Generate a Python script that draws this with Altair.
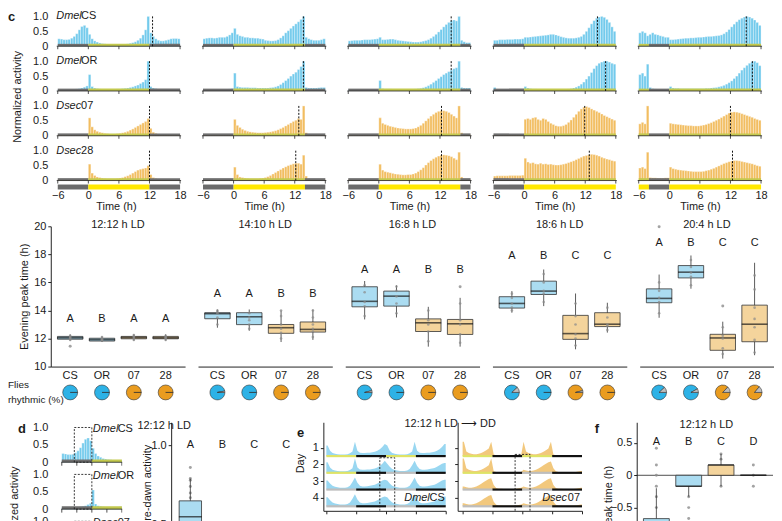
import math
import altair as alt
import pandas as pd

FONT = "Liberation Sans"
TXT = "#1a1a1a"

LD = ["12:12 h LD", "14:10 h LD", "16:8 h LD", "18:6 h LD", "20:4 h LD"]
STRAINS = ["CS", "OR", "07", "28"]
GENUS = ["Dmel", "Dmel", "Dsec", "Dsec"]

BAR_BLUE = "#72caec"
BAR_ORANGE = "#f2bd60"
BOX_BLUE = "#abdcf1"
BOX_ORANGE = "#f4d49c"
PIE_BLUE = "#2db2e6"
PIE_ORANGE = "#ea9c1f"
PIE_GRAY = "#bdbdbd"
PH_COL = {"D": "#6e6e6e", "L": "#c3c94e"}
LB_COL = {"D": "#6b6b6b", "L": "#ffe800"}

# 30-min bins from -6 h to 18 h (bin starts)
BIN_START = [-6 + 0.5 * i for i in range(48)]

# ---- normalized activity profiles, [LD condition][strain] ----
HIST = [
    [  # 12:12
        [0.25,0.24,0.22,0.22,0.23,0.27,0.33,0.42,0.55,0.66,0.70,0.62,
         0.40,0.25,0.18,0.14,0.11,0.09,0.08,0.07,0.06,0.06,0.06,0.06,
         0.06,0.07,0.07,0.08,0.10,0.12,0.15,0.20,0.27,0.38,0.55,1.00,
         0.45,0.33,0.25,0.20,0.18,0.18,0.20,0.22,0.25,0.26,0.26,0.25],
        [0.05,0.05,0.05,0.05,0.05,0.05,0.06,0.07,0.08,0.10,0.13,0.17,
         0.55,0.15,0.10,0.08,0.07,0.06,0.06,0.06,0.06,0.06,0.06,0.07,
         0.07,0.08,0.09,0.10,0.12,0.14,0.17,0.20,0.25,0.30,0.38,1.00,
         0.15,0.10,0.08,0.06,0.05,0.05,0.05,0.05,0.05,0.05,0.05,0.05],
        [0.03,0.03,0.03,0.03,0.03,0.03,0.03,0.03,0.03,0.04,0.04,0.05,
         0.60,0.30,0.20,0.15,0.12,0.10,0.08,0.07,0.06,0.06,0.06,0.07,
         0.08,0.10,0.12,0.15,0.19,0.23,0.28,0.33,0.38,0.43,0.48,0.58,
         0.25,0.12,0.08,0.06,0.05,0.04,0.04,0.04,0.03,0.03,0.03,0.03],
        [0.03,0.03,0.03,0.03,0.03,0.03,0.03,0.03,0.04,0.04,0.04,0.05,
         0.55,0.25,0.17,0.12,0.10,0.08,0.07,0.06,0.06,0.06,0.06,0.07,
         0.08,0.10,0.13,0.16,0.20,0.25,0.30,0.35,0.38,0.40,0.42,0.50,
         0.20,0.10,0.07,0.05,0.04,0.04,0.03,0.03,0.03,0.03,0.03,0.03],
    ],
    [  # 14:10
        [0.25,0.27,0.28,0.28,0.27,0.28,0.30,0.30,0.30,0.33,0.38,0.45,
         0.60,0.40,0.35,0.33,0.30,0.30,0.28,0.28,0.27,0.27,0.25,0.24,
         0.20,0.19,0.18,0.18,0.19,0.22,0.28,0.35,0.45,0.52,0.60,0.68,
         0.75,0.82,0.90,1.00,0.30,0.25,0.22,0.20,0.20,0.20,0.22,0.25],
        [0.05,0.05,0.05,0.05,0.05,0.05,0.05,0.05,0.06,0.06,0.07,0.08,
         0.60,0.15,0.13,0.12,0.12,0.12,0.11,0.11,0.11,0.10,0.10,0.10,
         0.10,0.10,0.11,0.12,0.14,0.17,0.22,0.28,0.35,0.42,0.50,0.57,
         0.63,0.72,0.82,1.00,0.12,0.10,0.10,0.10,0.10,0.11,0.12,0.12],
        [0.03,0.03,0.03,0.03,0.03,0.03,0.03,0.03,0.03,0.03,0.03,0.04,
         0.55,0.35,0.28,0.22,0.18,0.15,0.13,0.12,0.11,0.10,0.10,0.10,
         0.11,0.12,0.13,0.15,0.17,0.20,0.24,0.28,0.33,0.38,0.43,0.48,
         0.52,0.58,0.55,1.00,0.10,0.05,0.04,0.03,0.03,0.03,0.03,0.03],
        [0.03,0.03,0.03,0.03,0.03,0.03,0.03,0.03,0.03,0.04,0.04,0.04,
         0.45,0.20,0.12,0.10,0.08,0.07,0.06,0.06,0.06,0.06,0.07,0.08,
         0.10,0.13,0.17,0.22,0.27,0.32,0.37,0.42,0.46,0.50,0.53,0.56,
         0.58,0.58,0.55,0.85,0.15,0.06,0.04,0.04,0.03,0.03,0.03,0.03],
    ],
    [  # 16:8
        [0.18,0.19,0.20,0.20,0.20,0.21,0.22,0.22,0.22,0.23,0.24,0.25,
         0.30,0.22,0.22,0.23,0.24,0.24,0.22,0.20,0.19,0.18,0.17,0.16,
         0.15,0.14,0.14,0.14,0.15,0.17,0.19,0.22,0.27,0.33,0.40,0.48,
         0.56,0.65,0.73,0.80,0.85,0.88,0.85,1.00,0.20,0.15,0.12,0.12],
        [0.05,0.05,0.05,0.05,0.05,0.05,0.05,0.05,0.05,0.05,0.06,0.06,
         0.35,0.08,0.07,0.07,0.07,0.06,0.06,0.06,0.06,0.06,0.06,0.06,
         0.06,0.06,0.07,0.08,0.09,0.11,0.14,0.18,0.23,0.29,0.35,0.42,
         0.48,0.55,0.60,0.65,0.70,0.75,0.78,1.00,0.12,0.10,0.10,0.10],
        [0.03,0.03,0.03,0.03,0.03,0.03,0.03,0.03,0.03,0.03,0.03,0.03,
         0.60,0.42,0.38,0.35,0.32,0.30,0.28,0.26,0.25,0.24,0.23,0.23,
         0.23,0.24,0.26,0.30,0.35,0.42,0.50,0.58,0.66,0.72,0.78,0.82,
         0.84,0.84,0.82,0.78,0.72,0.66,0.60,1.00,0.10,0.05,0.04,0.04],
        [0.04,0.04,0.04,0.04,0.04,0.04,0.04,0.04,0.04,0.04,0.04,0.04,
         0.55,0.35,0.30,0.28,0.26,0.24,0.22,0.21,0.20,0.19,0.19,0.20,
         0.20,0.22,0.25,0.30,0.36,0.43,0.52,0.60,0.67,0.73,0.78,0.82,
         0.85,0.86,0.85,0.83,0.80,0.75,0.70,0.95,0.12,0.06,0.05,0.04],
    ],
    [  # 18:6
        [0.20,0.20,0.22,0.22,0.22,0.23,0.23,0.23,0.24,0.24,0.24,0.25,
         0.30,0.30,0.31,0.32,0.33,0.34,0.35,0.36,0.37,0.38,0.40,0.40,
         0.38,0.35,0.32,0.30,0.28,0.27,0.27,0.27,0.28,0.30,0.33,0.40,
         0.50,0.62,0.75,0.86,0.94,0.98,1.00,0.97,0.90,0.80,0.65,0.50],
        [0.12,0.06,0.05,0.05,0.05,0.05,0.05,0.05,0.05,0.05,0.06,0.06,
         0.15,0.10,0.08,0.07,0.07,0.06,0.06,0.06,0.06,0.06,0.05,0.05,
         0.05,0.05,0.05,0.05,0.06,0.07,0.08,0.10,0.13,0.17,0.23,0.30,
         0.40,0.50,0.62,0.75,0.85,0.93,0.97,1.00,1.00,0.97,0.93,0.90],
        [0.03,0.03,0.03,0.03,0.03,0.03,0.04,0.04,0.04,0.05,0.05,0.06,
         0.55,0.58,0.55,0.60,0.62,0.55,0.52,0.58,0.55,0.48,0.42,0.38,
         0.34,0.32,0.32,0.34,0.38,0.45,0.53,0.62,0.72,0.82,0.90,0.96,
         0.98,0.95,0.90,0.86,0.82,0.78,0.73,0.68,0.64,0.60,0.56,0.52],
        [0.15,0.16,0.16,0.16,0.16,0.16,0.17,0.17,0.17,0.17,0.17,0.18,
         0.75,0.62,0.58,0.60,0.56,0.55,0.58,0.55,0.56,0.54,0.55,0.53,
         0.52,0.52,0.53,0.55,0.57,0.60,0.63,0.66,0.70,0.74,0.78,0.82,
         0.84,0.86,0.88,0.87,0.85,0.82,0.78,0.75,0.72,0.70,0.67,0.65],
    ],
    [  # 20:4
        [0.45,0.50,0.45,0.35,0.40,0.45,0.40,0.38,0.35,0.33,0.30,0.30,
         0.22,0.22,0.23,0.24,0.25,0.26,0.27,0.27,0.28,0.28,0.29,0.30,
         0.30,0.31,0.32,0.33,0.33,0.34,0.35,0.36,0.38,0.42,0.48,0.56,
         0.65,0.74,0.82,0.89,0.94,0.98,1.00,0.98,0.94,0.88,0.80,0.70],
        [0.55,0.60,0.50,0.90,0.12,0.08,0.07,0.06,0.06,0.06,0.06,0.07,
         0.15,0.10,0.09,0.09,0.08,0.08,0.08,0.08,0.08,0.08,0.08,0.08,
         0.08,0.08,0.09,0.09,0.10,0.11,0.12,0.14,0.16,0.19,0.23,0.28,
         0.34,0.42,0.50,0.60,0.70,0.78,0.86,0.93,0.98,1.00,0.95,0.85],
        [0.40,0.45,0.40,1.00,0.03,0.03,0.03,0.03,0.03,0.03,0.03,0.03,
         0.42,0.40,0.39,0.38,0.37,0.36,0.35,0.34,0.34,0.33,0.33,0.33,
         0.34,0.36,0.38,0.41,0.44,0.48,0.52,0.56,0.61,0.66,0.71,0.76,
         0.79,0.80,0.79,0.77,0.74,0.71,0.68,0.65,0.62,0.58,0.55,0.52],
        [0.42,0.45,0.40,0.95,0.10,0.09,0.09,0.08,0.08,0.08,0.09,0.09,
         0.45,0.40,0.38,0.36,0.35,0.34,0.33,0.32,0.31,0.30,0.30,0.30,
         0.30,0.31,0.33,0.35,0.38,0.41,0.45,0.49,0.53,0.57,0.60,0.63,
         0.65,0.67,0.67,0.66,0.64,0.62,0.60,0.58,0.56,0.53,0.50,0.48],
    ],
]

# evening peak (dashed line) per [LD][strain]
PEAK = [[12.6, 12.0, 12.0, 12.0], [13.7, 13.7, 12.8, 12.2], [14.2, 14.2, 12.3, 12.3],
        [14.4, 16.0, 11.9, 12.8], [15.1, 16.3, 12.0, 12.4]]

# light schedule per LD condition (start, end, D/L)
SCHED = [
    [(-6, 0, "D"), (0, 12, "L"), (12, 18, "D")],
    [(-6, 0, "D"), (0, 14, "L"), (14, 18, "D")],
    [(-6, 0, "D"), (0, 16, "L"), (16, 18, "D")],
    [(-6, 0, "D"), (0, 18, "L")],
    [(-6, -4, "L"), (-4, 0, "D"), (0, 18, "L")],
]

# ---- evening peak time box plots ----
BOX_LO = [[11.85, 11.75, 11.85, 11.85], [12.77, 12.55, 11.75, 11.90], [13.36, 13.50, 11.42, 11.42],
          [13.84, 14.31, 11.23, 12.42], [13.48, 15.55, 10.57, 10.81]]
BOX_Q1 = [[11.95, 11.82, 11.98, 11.98], [13.41, 12.99, 12.37, 12.46], [14.26, 14.31, 12.50, 12.29],
          [14.17, 15.14, 11.94, 12.85], [14.55, 16.32, 11.16, 11.77]]
BOX_MED = [[12.05, 11.92, 12.07, 12.05], [13.77, 13.55, 12.77, 12.65], [14.65, 15.02, 13.12, 13.05],
           [14.50, 15.38, 12.35, 13.02], [14.86, 16.73, 12.04, 13.02]]
BOX_Q3 = [[12.15, 12.02, 12.15, 12.15], [13.84, 13.84, 13.00, 13.18], [15.69, 15.38, 13.40, 13.36],
          [14.98, 16.09, 13.65, 13.84], [15.54, 17.20, 12.30, 14.38]]
BOX_HI = [[12.30, 12.15, 12.30, 12.30], [14.07, 14.07, 14.00, 14.07], [16.10, 15.79, 14.26, 14.90],
          [15.38, 16.92, 15.21, 14.55], [16.56, 17.92, 13.20, 17.40]]
OUTLIERS = [(0, "CS", 11.45), (2, "28", 15.69), (4, "CS", 19.96), (4, "07", 14.31)]
# individual flies (gray dots) per [LD][strain]
FLY_PTS = [
    [[12.0, 12.1, 12.2, 12.05, 11.9], [11.85, 11.9, 12.0, 11.95, 12.1],
     [12.0, 12.1, 12.15, 11.9, 12.25], [12.0, 12.1, 12.2, 11.9, 12.05]],
    [[13.5, 13.8, 13.9, 13.0, 14.0], [13.0, 13.5, 13.8, 12.7, 13.3],
     [12.4, 12.7, 13.0, 12.0, 13.6, 14.0], [12.5, 12.7, 13.0, 12.1, 13.5, 14.0]],
    [[14.3, 14.6, 15.3, 15.8, 13.6], [14.5, 15.0, 15.4, 15.7, 13.8],
     [12.5, 13.0, 13.3, 11.8, 14.0], [12.3, 13.0, 13.3, 11.7, 14.5]],
    [[14.2, 14.5, 14.9, 14.0, 15.2], [15.2, 15.4, 16.0, 14.6, 16.6],
     [12.0, 12.3, 13.0, 13.6, 14.5, 11.5], [12.9, 13.0, 13.5, 14.2, 12.6]],
    [[14.6, 14.9, 15.4, 16.0, 13.8], [16.4, 16.7, 17.1, 17.6, 15.8],
     [11.3, 12.0, 12.2, 12.8, 10.9], [11.9, 12.8, 13.4, 14.2, 15.5, 16.5, 11.0]],
]
LETTERS = [["A", "B", "A", "A"], ["A", "A", "B", "B"], ["A", "A", "B", "B"],
           ["A", "B", "C", "C"], ["A", "B", "C", "C"]]
LETTER_Y = [13.4, 15.2, 16.9, 17.9, 18.8]

# flies rhythmic (%)
PIE_PCT = [[100, 100, 100, 100], [97, 100, 100, 100], [96, 100, 100, 100],
           [88, 100, 96, 100], [88, 92, 87, 86]]

# ---- panel d: pre-dawn activity ----
PD_LO = [0.30, 0.05, 0.02, 0.02]
PD_Q1 = [0.45, 0.12, 0.08, 0.08]
PD_MED = [0.55, 0.20, 0.12, 0.10]
PD_Q3 = [0.65, 0.30, 0.20, 0.18]
PD_HI = [0.79, 0.42, 0.35, 0.30]
PD_LETTERS = ["A", "B", "C", "C"]
PD_POINTS = [("CS", 0.86), ("CS", 0.79), ("CS", 0.78), ("CS", 0.74), ("CS", 0.70), ("CS", 0.67)]

# ---- panel e: actogram day profiles (hourly, ZT0..ZT23) ----
CS_LD = [0.70,0.35,0.20,0.15,0.12,0.10,0.10,0.10,0.12,0.18,0.30,0.95,
         0.35,0.22,0.20,0.20,0.22,0.22,0.25,0.28,0.35,0.45,0.60,0.80]
CS_DD = [0.60,0.40,0.25,0.18,0.15,0.12,0.12,0.12,0.15,0.25,0.50,0.80,
         0.45,0.25,0.20,0.20,0.22,0.25,0.28,0.32,0.40,0.50,0.60,0.65]
S07_LD = [0.95,0.30,0.20,0.15,0.12,0.12,0.15,0.20,0.28,0.38,0.50,0.95,
          0.10,0.05,0.04,0.04,0.04,0.04,0.04,0.04,0.04,0.04,0.05,0.05]
S07_DD = [0.20,0.15,0.12,0.12,0.15,0.20,0.28,0.38,0.50,0.60,0.70,0.75,
          0.30,0.10,0.06,0.05,0.04,0.04,0.04,0.04,0.04,0.05,0.08,0.12]

# ---- panel f: peak time shift ----
F_LO = [-0.95, -0.33, -0.17, 0.0]
F_Q1 = [-0.90, -0.17, 0.0, 0.0]
F_MED = [-0.80, -0.17, 0.16, 0.0]
F_Q3 = [-0.67, 0.0, 0.16, 0.0]
F_HI = [-0.20, 0.0, 0.33, 0.0]
F_LETTERS = ["A", "B", "C", "D"]
F_POINTS = [("CS", 0.42), ("CS", 0.16), ("CS", 0.0), ("CS", -0.17), ("CS", -0.33), ("CS", -0.5),
            ("OR", -0.33), ("OR", -0.5), ("OR", -0.67), ("07", 0.33), ("07", 0.25), ("07", -0.17),
            ("28", 0.16), ("28", 0.0), ("28", -0.17)]

ONE = pd.DataFrame({"a": [0]})
IDC = lambda f: alt.Color(f, scale=None)


def note(text, x, y, size=11, weight="normal", align="left", baseline="middle", style="normal", lh=None):
    kw = dict(fontSize=size, fontWeight=weight, align=align, baseline=baseline, fontStyle=style, color=TXT)
    if lh:
        kw["lineHeight"] = lh
    return alt.Chart(ONE).mark_text(**kw).encode(x=alt.value(x), y=alt.value(y), text=alt.value(text))


def stacked_hists(rows, pitch, sched, peaks, xs, xax, ys, yax, span, ticks, labels_at, clip=False,
                  dashed=None):
    """rows: list of (values, color). Row r baseline at (n-1-r)*pitch."""
    n = len(rows)
    X = lambda f: alt.X(f, scale=xs, axis=xax)
    Y = lambda f: alt.Y(f, scale=ys, axis=yax)
    bars, ph, bl, tk, pk, lab, dbox = [], [], [], [], [], [], []
    for r, (vals, col) in enumerate(rows):
        base = (n - 1 - r) * pitch
        for t, v in zip(BIN_START, vals):
            bars.append({"t": t, "t2": t + 0.5, "y": base + v, "b": base, "col": col})
        for s, e, k in sched:
            ph.append({"s": s, "e": e, "y0": base, "y1": base + 0.08, "col": PH_COL[k]})
        bl.append({"a": span[0], "b2": span[1], "y": base})
        for tx in ticks:
            tk.append({"x": tx, "y0": base, "y1": base - 0.1})
        if peaks is not None:
            pk.append({"p": peaks[r], "y0": base, "y1": base + 1.05})
        if labels_at is not None:
            lab.append({"xt": labels_at[0], "yt": base + labels_at[1], "g": GENUS[r], "s": STRAINS[r]})
        if dashed is not None:
            dbox.append({"a": dashed[0], "b2": dashed[1], "y0": base, "y1": base + 1.0})
    L = [
        alt.Chart(pd.DataFrame(bars)).mark_rect(stroke="white", strokeWidth=0.35, clip=clip).encode(
            x=X("t:Q"), x2="t2:Q", y=Y("y:Q"), y2="b:Q", color=IDC("col:N")),
        alt.Chart(pd.DataFrame(ph)).mark_rect(clip=clip).encode(
            x=X("s:Q"), x2="e:Q", y=Y("y0:Q"), y2="y1:Q", color=IDC("col:N")),
        alt.Chart(pd.DataFrame(bl)).mark_rule(color="#222", strokeWidth=0.8, clip=clip).encode(
            x=X("a:Q"), x2="b2:Q", y=Y("y:Q")),
        alt.Chart(pd.DataFrame(tk)).mark_rule(color="#222", strokeWidth=0.8, clip=clip).encode(
            x=X("x:Q"), y=Y("y0:Q"), y2="y1:Q"),
    ]
    if pk:
        L.append(alt.Chart(pd.DataFrame(pk)).mark_rule(color="#111", strokeDash=[2, 1.5], strokeWidth=1).encode(
            x=X("p:Q"), y=Y("y0:Q"), y2="y1:Q"))
    if dbox:
        L.append(alt.Chart(pd.DataFrame(dbox)).mark_rect(fillOpacity=0, stroke="#222", strokeWidth=0.9,
                                                         strokeDash=[2, 1.5], clip=clip).encode(
            x=X("a:Q"), x2="b2:Q", y=Y("y0:Q"), y2="y1:Q"))
    if lab:
        ldf = pd.DataFrame(lab)
        L.append(alt.Chart(ldf).mark_text(fontSize=11, fontStyle="italic", align="left", baseline="middle",
                                          color=TXT).encode(x=X("xt:Q"), y=Y("yt:Q"), text="g:N"))
        L.append(alt.Chart(ldf).mark_text(fontSize=11, align="left", baseline="middle", dx=25,
                                          color=TXT).encode(x=X("xt:Q"), y=Y("yt:Q"), text="s:N"))
    return L


PITCH = 1.5
HY_DOM = [-0.3, 5.6333]


def hist_unit(c):
    first = c == 0
    w = 131 if first else 125
    xs = alt.Scale(domain=[-7.37 if first else -6.2, 18.2], nice=False, zero=False)
    ys = alt.Scale(domain=HY_DOM, nice=False, zero=False)
    xax = alt.Axis(values=[-6, 0, 6, 12, 18], domain=False, ticks=False, labelPadding=0, labelFlush=False,
                   title="Time (h)", titlePadding=0, grid=False)
    if first:
        vals = [(3 - r) * PITCH + k for r in range(4) for k in (0, 0.5, 1.0)]
        m = "((datum.value + 0.01) % 1.5)"
        yax = alt.Axis(values=vals, labelExpr=f"{m} < 0.25 ? '0' : ({m} < 0.75 ? '0.5' : '1.0')",
                       domain=False, ticks=False, labelPadding=3, grid=False,
                       title="Normalized activity", titleX=-33, titleY=84.5, titleAngle=-90,
                       titleAlign="center", titleBaseline="middle")
    else:
        yax = None
    rows = [(HIST[c][r], BAR_BLUE if r < 2 else BAR_ORANGE) for r in range(4)]
    L = stacked_hists(rows, PITCH, SCHED[c], PEAK[c], xs, xax, ys, yax, (-6.2, 18.2), [-6, 0, 6, 12, 18],
                      (-6.3, 1.0) if first else None)
    lb = pd.DataFrame([{"s": s, "e": e, "y0": -0.3, "y1": -0.1333, "col": LB_COL[k]} for s, e, k in SCHED[c]])
    L.append(alt.Chart(lb).mark_rect().encode(
        x=alt.X("s:Q", scale=xs, axis=xax), x2="e:Q", y=alt.Y("y0:Q", scale=ys, axis=yax), y2="y1:Q",
        color=IDC("col:N")))
    if first:
        L.append(note("c", -43, -1.5, size=13, weight="bold", baseline="top"))
    return alt.layer(*L).properties(width=w, height=178)


def box_layers(df, pts, xs, xax, ys, yax, box_w, tick_size, clip=False, flies=None):
    X = lambda f: alt.X(f, scale=xs, axis=xax, sort=STRAINS)
    Y = lambda f: alt.Y(f, scale=ys, axis=yax)
    layers = []
    if pts is not None and len(pts):
        layers.append(alt.Chart(pts).mark_circle(size=9, color="#8c8c8c", opacity=0.8, clip=clip).encode(
            x=X("s:N"), y=Y("v:Q")))
    layers.append(alt.Chart(df).mark_rule(color="#333", strokeWidth=0.8, clip=clip).encode(
        x=X("s:N"), y=Y("lo:Q"), y2="hi:Q"))
    layers.append(alt.Chart(df).mark_bar(width=alt.RelativeBandSize(box_w), stroke="#333", strokeWidth=0.8,
                                         clip=clip).encode(
        x=X("s:N"), y=Y("q1:Q"), y2="q3:Q", color=IDC("col:N")))
    layers.append(alt.Chart(df).mark_tick(color="#1a1a1a", thickness=1.6, size=tick_size, clip=clip).encode(
        x=X("s:N"), y=Y("med:Q")))
    if flies is not None and len(flies):
        layers.append(alt.Chart(flies).mark_circle(size=7, color="#8a8a8a", opacity=0.7, clip=clip).encode(
            x=X("s:N"), y=Y("v:Q")))
    layers.append(alt.Chart(df).mark_text(fontSize=11, color=TXT).encode(
        x=X("s:N"), y=Y("ly:Q"), text="let:N"))
    return layers


BOX_COLS = [BOX_BLUE, BOX_BLUE, BOX_ORANGE, BOX_ORANGE]


def box_unit(c):
    df = pd.DataFrame({"s": STRAINS, "col": BOX_COLS, "lo": BOX_LO[c], "q1": BOX_Q1[c], "med": BOX_MED[c],
                       "q3": BOX_Q3[c], "hi": BOX_HI[c], "let": LETTERS[c], "ly": [LETTER_Y[c]] * 4})
    pts = pd.DataFrame([(s, v) for (cc, s, v) in OUTLIERS if cc == c], columns=["s", "v"])
    flies = pd.DataFrame([(s, v) for s, vs in zip(STRAINS, FLY_PTS[c]) for v in vs], columns=["s", "v"])
    xs = alt.Scale(domain=STRAINS, paddingInner=0, paddingOuter=0.11)
    xax = alt.Axis(title=None, labelAngle=0, ticks=False, domain=True, labelPadding=3, grid=False)
    ys = alt.Scale(domain=[10, 20], nice=False, zero=False)
    if c == 0:
        yax = alt.Axis(values=[10, 12, 14, 16, 18, 20], title="Evening peak time (h)", tickSize=3,
                       labelPadding=2, grid=False, domain=True)
    else:
        yax = None
    L = box_layers(df, pts, xs, xax, ys, yax, 0.8, 26, flies=flies)
    L.append(note(LD[c], 67.5, -1, align="center"))
    # pies: flies rhythmic (%)
    pr = []
    for s, p in zip(STRAINS, PIE_PCT[c]):
        col = PIE_BLUE if s in ("CS", "OR") else PIE_ORANGE
        pr.append({"s": s, "a0": 0, "a1": p, "col": col})
        pr.append({"s": s, "a0": p, "a1": 100, "col": PIE_GRAY})
    L.append(alt.Chart(pd.DataFrame(pr)).mark_arc(outerRadius=7.5, stroke="#333333", strokeWidth=0.6).encode(
        x=alt.X("s:N", scale=xs, axis=xax, sort=STRAINS), y=alt.value(167),
        theta=alt.Theta("a0:Q", stack=None,
                        scale=alt.Scale(domain=[0, 100], range=[math.pi / 2, math.pi / 2 + 2 * math.pi])),
        theta2="a1:Q", color=IDC("col:N")))
    if c == 0:
        L.append(note(["Flies", "rhythmic (%)"], -43, 160, size=10, lh=15))
    return alt.layer(*L).properties(width=135, height=141)


D_PITCH = 1.35


def d_unit():
    xs = alt.Scale(domain=[-8.2, 6.1], nice=False, zero=False)
    ys = alt.Scale(domain=[0.586, 3.85], nice=False, zero=False)
    xax = None
    vals = [(2 - r) * D_PITCH + k for r in range(2) for k in (0, 0.5, 1.0)] + [1.0]
    m = "((datum.value + 0.01) % 1.35)"
    yax = alt.Axis(values=vals, labelExpr=f"{m} < 0.25 ? '0' : ({m} < 0.75 ? '0.5' : '1.0')",
                   domain=False, ticks=False, labelPadding=3, grid=False,
                   title="Normalized activity", titleX=-36, titleY=90, titleAngle=-90,
                   titleAlign="center", titleBaseline="middle")
    rows = [(HIST[0][r][:24], BAR_BLUE if r < 2 else BAR_ORANGE) for r in range(3)]
    L = stacked_hists(rows, D_PITCH, [(-6, 0, "D"), (0, 6, "L")], None, xs, xax, ys, yax, (-6.1, 6.1),
                      [-6, -3, 0, 3, 6], (0.2, 0.95), clip=True, dashed=(-3.5, 0.0))
    L.append(note("d", -29, 7, size=13, weight="bold", align="center"))
    return alt.layer(*L).properties(width=72, height=114)


def predawn_unit():
    df = pd.DataFrame({"s": STRAINS, "col": BOX_COLS, "lo": PD_LO, "q1": PD_Q1, "med": PD_MED, "q3": PD_Q3,
                       "hi": PD_HI, "let": PD_LETTERS, "ly": [1.0] * 4})
    pts = pd.DataFrame(PD_POINTS, columns=["s", "v"])
    xs = alt.Scale(domain=STRAINS, paddingInner=0, paddingOuter=0.1)
    ys = alt.Scale(domain=[0.431, 1.144], nice=False, zero=False)
    yax = alt.Axis(values=[0.5, 1.0], format=".1f", title="Pre-dawn activity", titleX=-24, titleY=64,
                   titleAlign="center", titleBaseline="middle", titleAngle=-90, tickSize=3, labelPadding=2,
                   grid=False, domain=True)
    L = box_layers(df, pts, xs, None, ys, yax, 0.7, 23, clip=True)
    L.append(note("12:12 h LD", -7, 4, align="center"))
    return alt.layer(*L).properties(width=135, height=114)


SEG_COL = {"L": "#dfe366", "S": "#bdbdbd", "D": "#111111"}


def actogram(left):
    days = [CS_LD, CS_LD, CS_DD, CS_DD, CS_DD] if left else [S07_LD, S07_LD, S07_DD, S07_DD, S07_DD]
    recs, segs = [], []
    for r in range(1, 5):
        base = 4 - r
        prof = days[r - 1] + days[r]
        xs_ = [0] + [h + 0.5 for h in range(48)] + [48]
        vs_ = [prof[0]] + prof + [prof[-1]]
        for x, v in zip(xs_, vs_):
            recs.append({"row": r, "x": x, "y": base + 0.9 * v, "b": base})
        for half in range(2):
            d = r - 1 + half
            segs.append({"s": 24 * half, "e": 24 * half + 12, "col": SEG_COL["L" if d < 2 else "S"], "b": base})
            segs.append({"s": 24 * half + 12, "e": 24 * half + 24, "col": SEG_COL["D"], "b": base})
    xs = alt.Scale(domain=[-1.2 if left else -2.0, 48], nice=False, zero=False)
    ys = alt.Scale(domain=[-0.27, 5.02], nice=False, zero=False)
    xax = alt.Axis(values=[0, 12, 24, 36, 48], labels=False, ticks=True, tickSize=3, domain=True,
                   title=None, grid=False)
    if left:
        yax = alt.Axis(values=[3.5, 2.5, 1.5, 0.5], labelExpr="format(4.5 - datum.value, 'd')", title="Day",
                       titleX=-23, titleY=41, titleAngle=-90, titleAlign="center", titleBaseline="middle",
                       tickSize=3, labelPadding=2, domain=True, grid=False)
    else:
        yax = alt.Axis(values=[3.5, 2.5, 1.5, 0.5], labels=False, title=None, tickSize=3, domain=True,
                       grid=False)
    X = lambda f: alt.X(f, scale=xs, axis=xax)
    Y = lambda f: alt.Y(f, scale=ys, axis=yax)
    col = "#93d5f0" if left else "#f1c576"
    area = alt.Chart(pd.DataFrame(recs)).mark_area(color=col, opacity=0.95, interpolate="linear").encode(
        x=X("x:Q"), y=Y("y:Q"), y2="b:Q", detail="row:N")
    seg = alt.Chart(pd.DataFrame(segs)).mark_rule(strokeWidth=2.2).encode(
        x=X("s:Q"), x2="e:Q", y=Y("b:Q"), color=IDC("col:N"))
    a, b, top = (21.5, 27.5, 2.9) if left else (21.1, 27.1, 3.1)
    dl = pd.DataFrame({"x1": [a, b, a], "x2": [a, b, b], "y1": [-0.27, -0.27, top], "y2": [top, top, top]})
    dash = alt.Chart(dl).mark_rule(color="#222", strokeDash=[2, 1.5], strokeWidth=0.9).encode(
        x=X("x1:Q"), x2="x2:Q", y=Y("y1:Q"), y2="y2:Q")
    w = 123 if left else 125
    L = [area, seg, dash]
    if left:
        L += [note("CS", w - 1, 76, align="right"), note("Dmel", w - 16, 76, align="right", style="italic"),
              note("e", -23, 11, size=13, weight="bold", align="center")]
    else:
        L += [note("07", w - 2, 76, align="right"), note("Dsec", w - 15, 76, align="right", style="italic"),
              note("12:12 h LD \u27f6 DD", -7.5, 2, align="center")]
    return alt.layer(*L).properties(width=w, height=89)


def f_unit():
    df = pd.DataFrame({"s": STRAINS, "col": BOX_COLS, "lo": F_LO, "q1": F_Q1, "med": F_MED, "q3": F_Q3,
                       "hi": F_HI, "let": F_LETTERS, "ly": [0.51] * 4})
    pts = pd.DataFrame(F_POINTS, columns=["s", "v"])
    xs = alt.Scale(domain=STRAINS, paddingInner=0, paddingOuter=0.108)
    ys = alt.Scale(domain=[-0.934, 0.82], nice=False, zero=False)
    yax = alt.Axis(values=[-0.5, 0, 0.5], labelExpr="datum.value == 0 ? '0' : format(datum.value, '.1f')",
                   title="Peak time (h)", titleX=-28, titleY=76, titleAngle=-90, titleAlign="center",
                   titleBaseline="middle", tickSize=3, labelPadding=2, grid=False, domain=True)
    zero = alt.Chart(pd.DataFrame({"z": [0.0]})).mark_rule(color="#222", strokeWidth=0.8).encode(
        y=alt.Y("z:Q", scale=ys, axis=yax))
    L = [zero] + box_layers(df, pts, xs, None, ys, yax, 0.8, 26, clip=True)
    L.append(note("12:12 h LD", 70, 3, align="center"))
    L.append(note("f", -40, 7, size=13, weight="bold", align="center"))
    return alt.layer(*L).properties(width=137, height=114)


def spacer(w):
    return alt.Chart(ONE).mark_point(opacity=0).properties(width=w, height=1)


# ---------- assemble ----------
HB = alt.hconcat(*[hist_unit(c) for c in range(5)], spacing=21, bounds="flush")
BPB = alt.hconcat(*[box_unit(c) for c in range(5)], spacing=13, bounds="flush")
bottom = alt.hconcat(d_unit(), spacer(49), predawn_unit(), spacer(18), actogram(True), spacer(12),
                     actogram(False), spacer(55), f_unit(), spacing=0, bounds="flush")
top = alt.vconcat(HB, BPB, spacing=8)
chart = alt.vconcat(top, bottom, spacing=13).properties(padding=0)
chart = (chart.configure(font=FONT)
         .configure_view(stroke=None)
         .configure_axis(labelFont=FONT, titleFont=FONT, labelFontSize=11, titleFontSize=11,
                         titleFontWeight="normal", labelColor=TXT, titleColor=TXT, domainColor="#222",
                         tickColor="#222", grid=False)
         .configure_text(font=FONT))

chart.save("out.html", embed_options={"renderer": "svg", "actions": False})
